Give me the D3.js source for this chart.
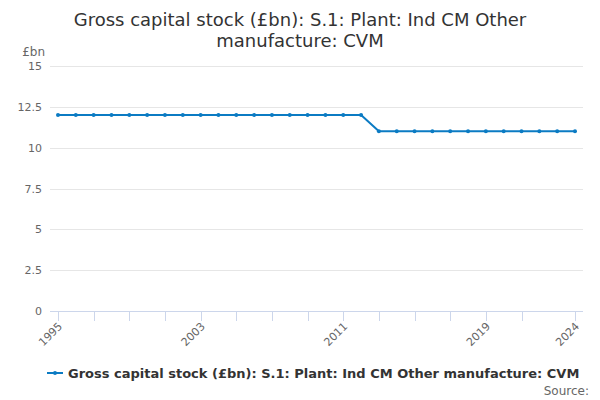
<!DOCTYPE html>
<html><head><meta charset="utf-8">
<script src="https://cdn.jsdelivr.net/npm/d3@7"></script>
<style>body{margin:0;background:#fff;font-family:"DejaVu Sans",sans-serif;}</style>
</head><body><svg id="c" width="600" height="400"></svg>
<script>
const years = d3.range(1995, 2025);
const values = [12,12,12,12,12,12,12,12,12,12,12,12,12,12,12,12,12,12,11,11,11,11,11,11,11,11,11,11,11,11];
const yTicks = [0, 2.5, 5, 7.5, 10, 12.5, 15];
const xTicks = [1995,1997,1999,2001,2003,2005,2007,2009,2011,2013,2015,2017,2019,2021,2024];
const xLabels = [1995, 2003, 2011, 2019, 2024];
const titleLines = ["Gross capital stock (£bn): S.1: Plant: Ind CM Other", "manufacture: CVM"];
const seriesName = "Gross capital stock (£bn): S.1: Plant: Ind CM Other manufacture: CVM";

(function(){
const svg = d3.select("#c");
const pL = 50, pR = 583, pT = 66, pB = 311;
const x = d3.scaleLinear().domain([1995, 2024]).range([58, 575]);
const y = d3.scaleLinear().domain([0, 15]).range([pB, pT]);
const color = "#0b7bc3";

svg.append("g").selectAll("text").data(titleLines).join("text")
  .attr("x", 300).attr("y", (d,i)=>26 + i*21).attr("text-anchor","middle")
  .attr("font-size", 18).attr("fill","#333").text(d=>d);

svg.append("g").selectAll("line").data(yTicks.filter(d=>d>0)).join("line")
  .attr("x1", pL).attr("x2", pR).attr("y1", d=>Math.round(y(d))+0.5).attr("y2", d=>Math.round(y(d))+0.5)
  .attr("stroke","#e6e6e6");

svg.append("g").selectAll("text").data(yTicks).join("text")
  .attr("x", 42).attr("y", d=>y(d)+4).attr("text-anchor","end")
  .attr("font-size", 11).attr("fill","#666").text(d=>d);
svg.append("text").attr("x", 45).attr("y", 56).attr("text-anchor","end")
  .attr("font-size", 12).attr("fill","#666").text("£bn");

svg.append("line").attr("x1", pL).attr("x2", pR).attr("y1", pB+0.5).attr("y2", pB+0.5).attr("stroke","#ccd6eb");
svg.append("g").selectAll("line").data(xTicks).join("line")
  .attr("x1", d=>Math.round(x(d))+0.5).attr("x2", d=>Math.round(x(d))+0.5)
  .attr("y1", pB).attr("y2", pB+10).attr("stroke","#ccd6eb");
svg.append("g").selectAll("text").data(xLabels).join("text")
  .attr("transform", d=>`translate(${x(d)+5},${pB+16}) rotate(-45)`)
  .attr("text-anchor","end").attr("font-size", 11).attr("fill","#666").text(d=>d);

const data = years.map((yr,i)=>({yr, v: values[i]}));
svg.append("path").datum(data)
  .attr("d", d3.line().x(d=>x(d.yr)).y(d=>y(d.v)))
  .attr("fill","none").attr("stroke", color).attr("stroke-width", 2);
svg.append("g").selectAll("circle").data(data).join("circle")
  .attr("cx", d=>x(d.yr)).attr("cy", d=>y(d.v)).attr("r", 2).attr("fill", color);

svg.append("line").attr("x1", 47).attr("x2", 63).attr("y1", 373).attr("y2", 373).attr("stroke", color).attr("stroke-width", 2);
svg.append("circle").attr("cx", 55).attr("cy", 373).attr("r", 2).attr("fill", color);
svg.append("text").attr("x", 68).attr("y", 378).attr("font-size", 13).attr("font-weight","bold")
  .attr("fill","#333").text(seriesName);
svg.append("text").attr("x", 589).attr("y", 395).attr("text-anchor","end")
  .attr("font-size", 12).attr("fill","#666").text("Source:");
})();
</script></body></html>
